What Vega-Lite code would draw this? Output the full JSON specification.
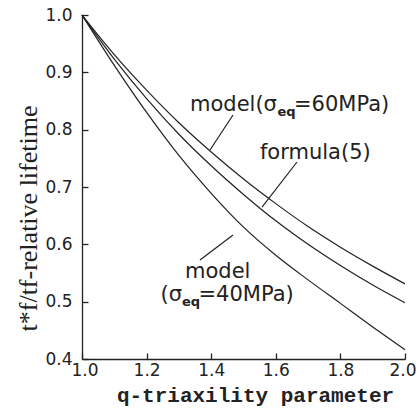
{
  "$schema": "https://vega.github.io/schema/vega-lite/v6.json",
  "width": 323,
  "height": 344,
  "autosize": "none",
  "padding": {"left": 82, "top": 15, "right": 11, "bottom": 55},
  "config": {
    "view": {"stroke": null},
    "axis": {"grid": false, "domainColor": "#222", "tickColor": "#222", "labelColor": "#222", "titleColor": "#222", "domainWidth": 1.3, "tickWidth": 1.3}
  },
  "datasets": {
    "curves": [
      {"q": 1.0, "v": 1.0, "series": "model60"},
      {"q": 1.1, "v": 0.931, "series": "model60"},
      {"q": 1.2, "v": 0.869, "series": "model60"},
      {"q": 1.3, "v": 0.812, "series": "model60"},
      {"q": 1.4, "v": 0.761, "series": "model60"},
      {"q": 1.5, "v": 0.714, "series": "model60"},
      {"q": 1.6, "v": 0.671, "series": "model60"},
      {"q": 1.7, "v": 0.631, "series": "model60"},
      {"q": 1.8, "v": 0.595, "series": "model60"},
      {"q": 1.9, "v": 0.562, "series": "model60"},
      {"q": 2.0, "v": 0.531, "series": "model60"},
      {"q": 1.0, "v": 1.0, "series": "formula5"},
      {"q": 1.1, "v": 0.923, "series": "formula5"},
      {"q": 1.2, "v": 0.854, "series": "formula5"},
      {"q": 1.3, "v": 0.792, "series": "formula5"},
      {"q": 1.4, "v": 0.737, "series": "formula5"},
      {"q": 1.5, "v": 0.687, "series": "formula5"},
      {"q": 1.6, "v": 0.641, "series": "formula5"},
      {"q": 1.7, "v": 0.600, "series": "formula5"},
      {"q": 1.8, "v": 0.563, "series": "formula5"},
      {"q": 1.9, "v": 0.529, "series": "formula5"},
      {"q": 2.0, "v": 0.498, "series": "formula5"},
      {"q": 1.0, "v": 1.0, "series": "model40"},
      {"q": 1.1, "v": 0.912, "series": "model40"},
      {"q": 1.2, "v": 0.830, "series": "model40"},
      {"q": 1.3, "v": 0.755, "series": "model40"},
      {"q": 1.4, "v": 0.689, "series": "model40"},
      {"q": 1.5, "v": 0.630, "series": "model40"},
      {"q": 1.6, "v": 0.581, "series": "model40"},
      {"q": 1.7, "v": 0.538, "series": "model40"},
      {"q": 1.8, "v": 0.497, "series": "model40"},
      {"q": 1.9, "v": 0.456, "series": "model40"},
      {"q": 2.0, "v": 0.416, "series": "model40"}
    ],
    "pointers": [
      {"q": 1.4675, "v": 0.8256, "q2": 1.3963, "v2": 0.7645},
      {"q": 1.6656, "v": 0.7436, "q2": 1.5573, "v2": 0.6651},
      {"q": 1.4675, "v": 0.6163, "q2": 1.3653, "v2": 0.5727}
    ],
    "labels": [
      {"q": 1.3344, "v": 0.8326, "text": "model(σ"},
      {"q": 1.6563, "v": 0.8326, "text": "=60MPa)"},
      {"q": 1.551, "v": 0.7488, "text": "formula(5)"},
      {"q": 1.319, "v": 0.5413, "text": "model"},
      {"q": 1.243, "v": 0.5012, "text": "(σ"},
      {"q": 1.3607, "v": 0.5012, "text": "=40MPa)"}
    ],
    "subs": [
      {"q": 1.6053, "v": 0.8238, "text": "eq"},
      {"q": 1.3096, "v": 0.4925, "text": "eq"}
    ]
  },
  "encoding": {
    "x": {
      "field": "q", "type": "quantitative",
      "scale": {"domain": [1, 2], "nice": false, "zero": false},
      "axis": {
        "values": [1.0, 1.2, 1.4, 1.6, 1.8, 2.0], "format": ".1f",
        "labelFont": "DejaVu Sans", "labelFontSize": 17, "labelFlush": true, "labelFlushOffset": 11,
        "tickSize": -6, "labelPadding": 9,
        "title": "q-triaxility parameter", "titleFont": "Liberation Mono", "titleFontSize": 21, "titleFontWeight": "bold",
        "titleX": 173, "titleY": 42, "titleBaseline": "alphabetic", "titleAlign": "center"
      }
    },
    "y": {
      "field": "v", "type": "quantitative",
      "scale": {"domain": [0.4, 1.0], "nice": false, "zero": false},
      "axis": {
        "values": [0.4, 0.5, 0.6, 0.7, 0.8, 0.9, 1.0], "format": ".1f",
        "labelFont": "DejaVu Sans", "labelFontSize": 17, "labelFlush": false,
        "tickSize": -6, "labelPadding": 16,
        "title": "t*f/tf-relative lifetime", "titleFont": "Liberation Serif", "titleFontSize": 26, "titleFontWeight": "normal",
        "titleX": -46, "titleY": 203, "titleAngle": 270, "titleBaseline": "alphabetic", "titleAlign": "center"
      }
    }
  },
  "layer": [
    {
      "data": {"name": "curves"},
      "mark": {"type": "line", "interpolate": "monotone", "color": "#222", "strokeWidth": 1.2},
      "encoding": {"detail": {"field": "series"}}
    },
    {
      "data": {"name": "pointers"},
      "mark": {"type": "rule", "color": "#222", "strokeWidth": 1.2},
      "encoding": {"x2": {"field": "q2"}, "y2": {"field": "v2"}}
    },
    {
      "data": {"name": "labels"},
      "mark": {"type": "text", "align": "left", "baseline": "alphabetic", "font": "DejaVu Sans", "fontSize": 21, "color": "#222"},
      "encoding": {"text": {"field": "text"}}
    },
    {
      "data": {"name": "subs"},
      "mark": {"type": "text", "align": "left", "baseline": "alphabetic", "font": "DejaVu Sans", "fontSize": 13, "fontWeight": "bold", "color": "#222"},
      "encoding": {"text": {"field": "text"}}
    }
  ]
}
